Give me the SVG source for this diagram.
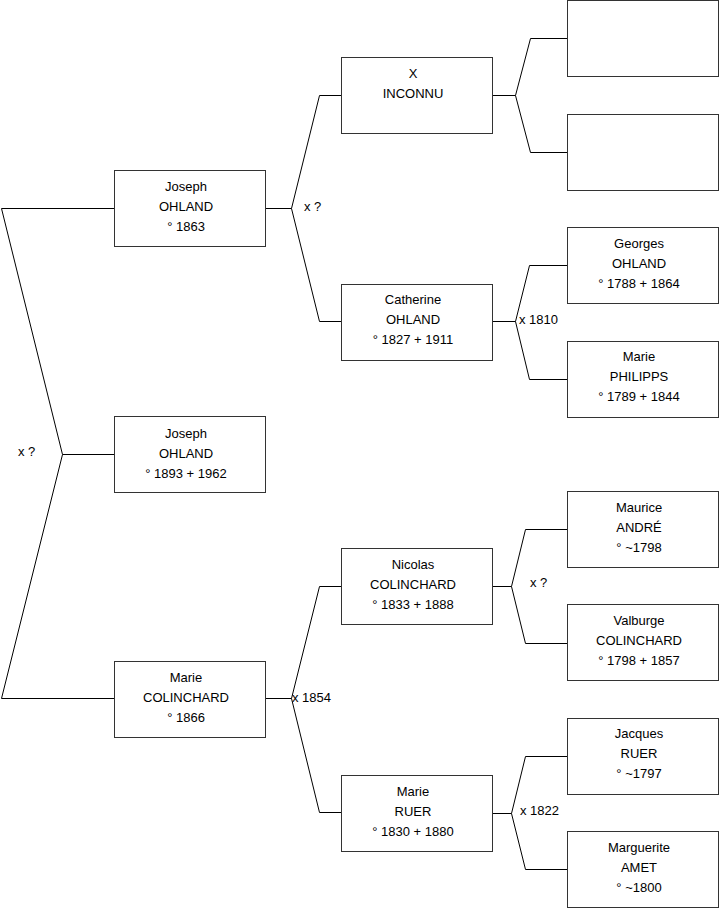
<svg xmlns="http://www.w3.org/2000/svg" width="719" height="908" viewBox="0 0 719 908">
<style>
.b{fill:#fff;stroke:#333;stroke-width:1}
.t{font-family:"Liberation Sans",Arial,sans-serif;font-size:13px;fill:#000;text-anchor:middle}
.l{font-family:"Liberation Sans",Arial,sans-serif;font-size:13px;fill:#000}
.c{fill:none;stroke:#000;stroke-width:1}
</style>
<rect width="719" height="908" fill="#fff"/>
<g id="connectors">
<polyline class="c" points="114,208.5 1.5,208.5 62.5,454.5 1.5,698.5 114,698.5"/>
<line class="c" x1="62.5" y1="454.5" x2="114" y2="454.5"/>
<polyline class="c" points="265,208.5 291.5,208.5"/>
<polyline class="c" points="341,95.5 319.5,95.5 291.5,208.5 319.5,321.5 341,321.5"/>
<polyline class="c" points="265,698.5 291.5,698.5"/>
<polyline class="c" points="341,586.5 319.5,586.5 291.5,698.5 319.5,812.5 341,812.5"/>
<polyline class="c" points="492,95.5 515.5,95.5"/>
<polyline class="c" points="567,38.5 530.5,38.5 515.5,95.5 530.5,152.5 567,152.5"/>
<polyline class="c" points="492,321.5 515.5,321.5"/>
<polyline class="c" points="567,265.5 529.5,265.5 515.5,321.5 529.5,379.5 567,379.5"/>
<polyline class="c" points="492,586.5 511.5,586.5"/>
<polyline class="c" points="567,529.5 525.5,529.5 511.5,586.5 525.5,643.5 567,643.5"/>
<polyline class="c" points="492,813.5 511.5,813.5"/>
<polyline class="c" points="567,756.5 525.5,756.5 511.5,813.5 525.5,869.5 567,869.5"/>
<text class="l" x="18" y="456">x ?</text>
<text class="l" x="304" y="211">x ?</text>
<text class="l" x="519" y="324">x 1810</text>
<text class="l" x="292" y="702">x 1854</text>
<text class="l" x="530" y="587">x ?</text>
<text class="l" x="520" y="815">x 1822</text>
</g>
<g id="n_root"><rect class="b" x="114.5" y="416.5" width="151" height="76"/><text class="t" x="186" y="438">Joseph</text><text class="t" x="186" y="458">OHLAND</text><text class="t" x="186" y="478">° 1893 + 1962</text></g>
<g id="n_joseph"><rect class="b" x="114.5" y="170.5" width="151" height="76"/><text class="t" x="186" y="191">Joseph</text><text class="t" x="186" y="211">OHLAND</text><text class="t" x="186" y="231">° 1863</text></g>
<g id="n_marie_c"><rect class="b" x="114.5" y="661.5" width="151" height="76"/><text class="t" x="186" y="682">Marie</text><text class="t" x="186" y="702">COLINCHARD</text><text class="t" x="186" y="722">° 1866</text></g>
<g id="n_inconnu"><rect class="b" x="341.5" y="57.5" width="151" height="76"/><text class="t" x="413" y="78">X</text><text class="t" x="413" y="98">INCONNU</text></g>
<g id="n_catherine"><rect class="b" x="341.5" y="284.5" width="151" height="76"/><text class="t" x="413" y="304">Catherine</text><text class="t" x="413" y="324">OHLAND</text><text class="t" x="413" y="344">° 1827 + 1911</text></g>
<g id="n_nicolas"><rect class="b" x="341.5" y="548.5" width="151" height="76"/><text class="t" x="413" y="569">Nicolas</text><text class="t" x="413" y="589">COLINCHARD</text><text class="t" x="413" y="609">° 1833 + 1888</text></g>
<g id="n_marie_r"><rect class="b" x="341.5" y="775.5" width="151" height="76"/><text class="t" x="413" y="796">Marie</text><text class="t" x="413" y="816">RUER</text><text class="t" x="413" y="836">° 1830 + 1880</text></g>
<g id="n_empty1"><rect class="b" x="567.5" y="0.5" width="151" height="76"/></g>
<g id="n_empty2"><rect class="b" x="567.5" y="114.5" width="151" height="76"/></g>
<g id="n_georges"><rect class="b" x="567.5" y="227.5" width="151" height="76"/><text class="t" x="639" y="248">Georges</text><text class="t" x="639" y="268">OHLAND</text><text class="t" x="639" y="288">° 1788 + 1864</text></g>
<g id="n_marie_p"><rect class="b" x="567.5" y="341.5" width="151" height="76"/><text class="t" x="639" y="361">Marie</text><text class="t" x="639" y="381">PHILIPPS</text><text class="t" x="639" y="401">° 1789 + 1844</text></g>
<g id="n_maurice"><rect class="b" x="567.5" y="491.5" width="151" height="76"/><text class="t" x="639" y="512">Maurice</text><text class="t" x="639" y="532">ANDRÉ</text><text class="t" x="639" y="552">° ~1798</text></g>
<g id="n_valburge"><rect class="b" x="567.5" y="604.5" width="151" height="76"/><text class="t" x="639" y="625">Valburge</text><text class="t" x="639" y="645">COLINCHARD</text><text class="t" x="639" y="665">° 1798 + 1857</text></g>
<g id="n_jacques"><rect class="b" x="567.5" y="718.5" width="151" height="76"/><text class="t" x="639" y="738">Jacques</text><text class="t" x="639" y="758">RUER</text><text class="t" x="639" y="778">° ~1797</text></g>
<g id="n_marguerite"><rect class="b" x="567.5" y="831.5" width="151" height="76"/><text class="t" x="639" y="852">Marguerite</text><text class="t" x="639" y="872">AMET</text><text class="t" x="639" y="892">° ~1800</text></g>
</svg>
